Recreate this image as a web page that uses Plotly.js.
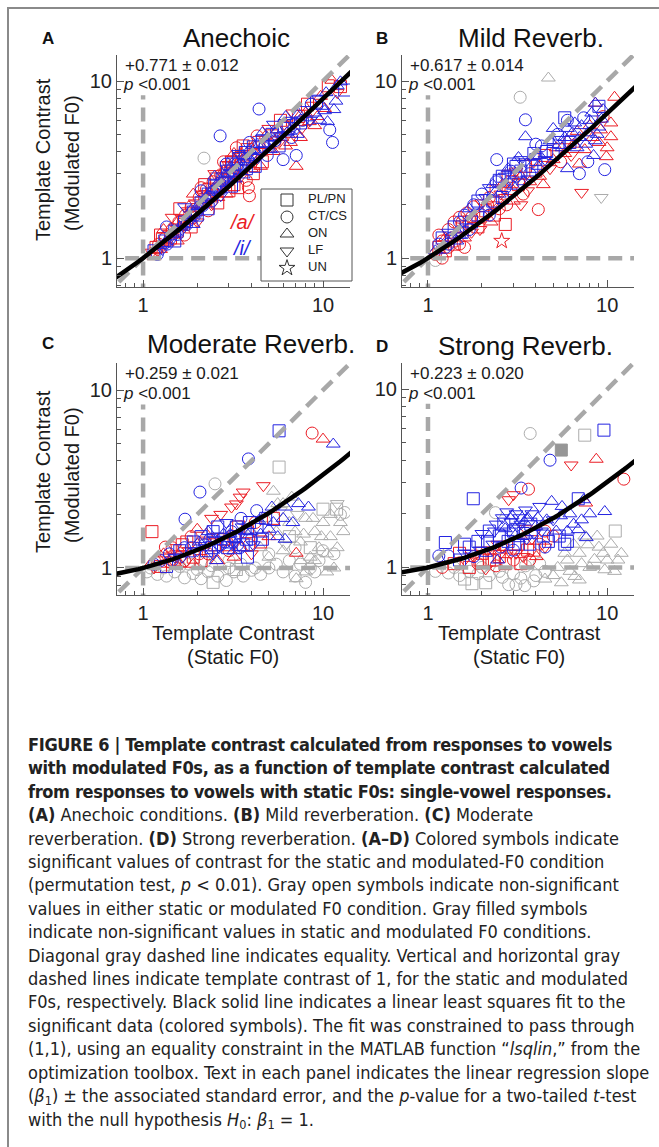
<!DOCTYPE html>
<html><head><meta charset="utf-8">
<script src="https://cdn.plot.ly/plotly-3.0.1.min.js"></script>
<style>
body{margin:0;background:#fff;}
#wrap{position:relative;width:659px;height:1147px;overflow:hidden;background:#fff;}
#plot{position:absolute;left:0;top:0;width:659px;height:1147px;}
#frame{position:absolute;left:7px;top:7px;width:700px;height:1200px;border-left:2px solid #8a8a8a;border-top:2px solid #8a8a8a;pointer-events:none;}
#cap{position:absolute;left:28px;top:733px;font-family:'Liberation Sans Narrow','DejaVu Sans Condensed',sans-serif;font-size:18px;line-height:23.4px;color:#222;white-space:nowrap;}
#cap .h{letter-spacing:-0.35px;}
#cap sub{font-size:70%;line-height:0;vertical-align:-0.25em;}
</style></head>
<body>
<div id="wrap">
<div id="plot"></div>
<div id="frame"></div>
<div id="cap">
<div class="h"><b>FIGURE 6 | Template contrast calculated from responses to vowels</b></div>
<div class="h"><b>with modulated F0s, as a function of template contrast calculated</b></div>
<div class="h"><b>from responses to vowels with static F0s: single-vowel responses.</b></div>
<div><b>(A)</b> Anechoic conditions. <b>(B)</b> Mild reverberation. <b>(C)</b> Moderate</div>
<div>reverberation. <b>(D)</b> Strong reverberation. <b>(A–D)</b> Colored symbols indicate</div>
<div>significant values of contrast for the static and modulated-F0 condition</div>
<div>(permutation test, <i>p</i> &lt; 0.01). Gray open symbols indicate non-significant</div>
<div>values in either static or modulated F0 condition. Gray filled symbols</div>
<div>indicate non-significant values in static and modulated F0 conditions.</div>
<div>Diagonal gray dashed line indicates equality. Vertical and horizontal gray</div>
<div>dashed lines indicate template contrast of 1, for the static and modulated</div>
<div>F0s, respectively. Black solid line indicates a linear least squares fit to the</div>
<div>significant data (colored symbols). The fit was constrained to pass through</div>
<div>(1,1), using an equality constraint in the MATLAB function “<i>lsqlin</i>,” from the</div>
<div>optimization toolbox. Text in each panel indicates the linear regression slope</div>
<div>(<i>β</i><sub>1</sub>) ± the associated standard error, and the <i>p</i>-value for a two-tailed <i>t</i>-test</div>
<div>with the null hypothesis <i>H</i><sub>0</sub>: <i>β</i><sub>1</sub> = 1.</div>
</div>
</div>
<script>
// ---------------- DATA ----------------
const panelLetters = ['A','B','C','D'];
const panelTitles = ['Anechoic','Mild Reverb.','Moderate Reverb.','Strong Reverb.'];
const slopes = [0.771, 0.617, 0.259, 0.223];
const slopeErrs = [0.012, 0.014, 0.021, 0.020];
const pTexts = ['<0.001','<0.001','<0.001','<0.001'];
const legendNames = ['PL/PN','CT/CS','ON','LF','UN'];
const legendCodes = ['s','c','u','d','t'];
const xTickVals = [1, 10];
const xTickText = ['1', '10'];

// points: [static F0 contrast, modulated F0 contrast, symbol code]
const A_red = [[1.12,1.08,'d'],[1.15,1.02,'u'],[1.18,1.15,'s'],[1.2,1.1,'d'],[1.22,1.2,'c'],[1.25,1.12,'u'],[1.25,1.35,'s'],[1.28,1.28,'s'],[1.3,1.18,'d'],[1.3,1.45,'u'],[1.33,1.3,'c'],[1.36,1.22,'u'],[1.4,1.38,'d'],[1.42,1.3,'s'],[1.45,1.45,'c'],[1.45,1.7,'d'],[1.48,1.35,'u'],[1.52,1.5,'d'],[1.55,1.42,'s'],[1.55,1.25,'u'],[1.58,1.6,'c'],[1.6,1.9,'s'],[1.62,1.5,'u'],[1.65,1.68,'d'],[1.68,1.55,'s'],[1.7,1.35,'c'],[1.72,1.75,'c'],[1.75,1.62,'u'],[1.78,1.85,'d'],[1.82,1.7,'s'],[1.85,1.95,'c'],[1.85,1.5,'s'],[1.9,1.8,'u'],[1.9,2.3,'u'],[1.95,2.05,'d'],[2.0,1.88,'s'],[2.0,1.6,'d'],[2.05,2.2,'c'],[2.1,2.0,'u'],[2.1,2.5,'c'],[2.15,2.3,'d'],[2.2,2.1,'s'],[2.2,2.6,'s'],[2.25,2.45,'c'],[2.3,2.2,'u'],[2.3,1.85,'c'],[2.35,2.55,'d'],[2.4,2.3,'s'],[2.4,2.0,'d'],[2.45,2.7,'c'],[2.5,2.4,'u'],[2.5,3.0,'d'],[2.55,2.8,'s'],[2.6,2.05,'s'],[2.6,2.2,'u'],[2.65,2.55,'d'],[2.7,2.95,'c'],[2.75,2.65,'s'],[2.8,3.1,'u'],[2.8,3.5,'c'],[2.85,2.75,'d'],[2.9,3.25,'s'],[2.9,2.3,'u'],[2.95,2.9,'c'],[3.0,3.35,'d'],[3.0,2.4,'s'],[3.05,3.0,'u'],[3.1,3.5,'s'],[3.15,3.1,'c'],[3.2,2.6,'s'],[3.2,3.9,'u'],[3.25,3.6,'u'],[3.3,3.2,'d'],[3.3,4.2,'c'],[3.35,2.5,'s'],[3.4,3.75,'c'],[3.45,3.8,'t'],[3.5,3.35,'s'],[3.5,2.9,'d'],[3.6,3.9,'d'],[3.6,4.3,'s'],[3.7,3.5,'u'],[3.75,2.75,'c'],[3.8,4.1,'s'],[3.85,2.5,'c'],[3.9,2.25,'c'],[3.95,3.7,'d'],[4.0,3.2,'u'],[4.1,4.3,'u'],[4.1,3.0,'s'],[4.2,3.8,'c'],[4.3,4.9,'c'],[4.4,4.5,'s'],[4.5,3.3,'u'],[4.6,4.0,'d'],[4.6,3.5,'s'],[4.8,4.9,'u'],[5.0,4.3,'s'],[5.0,5.4,'d'],[5.2,5.1,'d'],[5.3,4.0,'u'],[5.4,4.5,'c'],[5.6,5.3,'u'],[5.8,6.0,'s'],[5.9,4.8,'u'],[6.1,5.7,'d'],[6.2,4.3,'u'],[6.4,5.0,'u'],[6.6,4.5,'u'],[6.8,6.6,'d'],[6.9,5.8,'d'],[7.1,3.3,'u'],[7.3,6.3,'s'],[7.5,4.8,'u'],[7.6,5.4,'d'],[8.0,6.6,'u'],[8.2,7.4,'s'],[8.4,5.9,'u'],[8.8,7.3,'d'],[9.0,5.6,'u'],[9.3,6.3,'u'],[9.7,8.2,'u'],[10.2,7.0,'u'],[10.7,9.4,'s'],[11.2,10.1,'u'],[12.0,8.6,'d'],[12.5,9.3,'s']];
const A_blue = [[1.15,1.1,'s'],[1.2,1.05,'c'],[1.24,1.18,'u'],[1.28,1.12,'d'],[1.32,1.25,'s'],[1.35,1.5,'c'],[1.36,1.2,'c'],[1.4,1.32,'u'],[1.45,1.28,'d'],[1.5,1.42,'s'],[1.5,1.25,'s'],[1.55,1.36,'c'],[1.6,1.5,'u'],[1.65,1.45,'d'],[1.7,1.6,'s'],[1.7,1.95,'d'],[1.75,1.55,'c'],[1.8,1.7,'u'],[1.85,1.64,'d'],[1.9,1.82,'s'],[1.9,1.55,'u'],[1.95,1.75,'c'],[2.0,1.95,'u'],[2.0,1.75,'s'],[2.05,1.85,'d'],[2.1,2.05,'s'],[2.1,2.4,'c'],[2.15,1.98,'c'],[2.2,2.15,'u'],[2.25,2.08,'d'],[2.3,2.3,'s'],[2.3,1.9,'s'],[2.35,2.2,'c'],[2.4,2.4,'u'],[2.4,2.1,'c'],[2.45,2.3,'d'],[2.5,2.55,'s'],[2.5,2.9,'u'],[2.55,2.42,'c'],[2.6,2.65,'u'],[2.68,4.9,'c'],[2.7,2.55,'d'],[2.7,2.25,'d'],[2.75,2.8,'s'],[2.8,2.68,'c'],[2.8,2.45,'d'],[2.85,2.95,'u'],[2.9,2.8,'d'],[2.9,3.4,'c'],[2.95,3.1,'s'],[3.0,2.9,'c'],[3.05,3.25,'u'],[3.1,3.0,'d'],[3.1,2.55,'s'],[3.15,3.4,'s'],[3.2,3.1,'c'],[3.25,2.8,'u'],[3.3,3.5,'u'],[3.35,3.2,'d'],[3.4,3.65,'s'],[3.4,3.9,'d'],[3.5,3.35,'c'],[3.6,3.8,'u'],[3.6,2.95,'u'],[3.65,3.45,'d'],[3.7,3.95,'s'],[3.75,3.2,'s'],[3.8,3.6,'c'],[3.9,4.1,'u'],[3.9,4.5,'c'],[4.0,3.75,'d'],[4.1,4.25,'s'],[4.2,3.9,'c'],[4.2,3.3,'s'],[4.3,4.4,'u'],[4.35,3.7,'d'],[4.41,6.95,'c'],[4.45,4.05,'d'],[4.6,4.6,'s'],[4.6,5.1,'u'],[4.7,4.2,'c'],[4.9,4.8,'u'],[4.9,3.8,'c'],[5.0,4.4,'d'],[5.1,4.1,'u'],[5.2,5.0,'s'],[5.3,5.7,'d'],[5.4,4.6,'c'],[5.5,5.2,'c'],[5.6,5.3,'u'],[5.7,4.3,'s'],[5.8,4.9,'d'],[6.0,3.6,'c'],[6.1,5.6,'s'],[6.2,6.3,'u'],[6.3,5.1,'u'],[6.4,5.4,'s'],[6.6,6.0,'d'],[6.7,4.8,'c'],[6.9,5.4,'c'],[7.1,3.8,'c'],[7.2,6.4,'u'],[7.2,5.0,'u'],[7.5,5.8,'s'],[7.7,6.0,'c'],[7.9,6.9,'d'],[8.2,6.2,'u'],[8.5,6.0,'d'],[8.6,7.4,'c'],[9.0,6.6,'u'],[9.2,7.6,'s'],[9.4,8.0,'d'],[9.6,6.0,'u'],[9.9,7.2,'u'],[10.2,6.8,'u'],[10.4,8.6,'u'],[10.6,5.9,'u'],[10.9,5.3,'c'],[11.3,4.5,'c'],[11.5,6.9,'u'],[11.8,7.7,'u'],[12.0,9.4,'u'],[12.5,9.9,'u'],[13.2,8.9,'s']];
const A_gray = [[2.18,3.67,'c']];

const B_red = [[1.1,1.05,'c'],[1.15,1.15,'s'],[1.15,1.35,'c'],[1.2,1.0,'c'],[1.2,1.25,'c'],[1.25,1.3,'u'],[1.25,1.1,'s'],[1.3,1.15,'c'],[1.3,1.45,'c'],[1.35,1.25,'s'],[1.4,1.6,'c'],[1.4,1.2,'s'],[1.45,1.35,'d'],[1.5,1.2,'c'],[1.5,1.7,'c'],[1.55,1.5,'s'],[1.55,1.6,'c'],[1.6,1.3,'u'],[1.6,1.15,'c'],[1.65,1.8,'c'],[1.7,1.6,'s'],[1.75,1.4,'d'],[1.75,1.7,'c'],[1.8,1.95,'c'],[1.85,1.65,'u'],[1.9,1.5,'s'],[1.95,1.45,'d'],[2.0,2.05,'d'],[2.0,1.7,'c'],[2.1,1.85,'s'],[2.15,2.0,'c'],[2.2,2.2,'c'],[2.25,1.6,'u'],[2.3,2.0,'d'],[2.35,1.75,'s'],[2.4,2.4,'s'],[2.5,1.9,'c'],[2.55,2.3,'d'],[2.58,1.25,'t'],[2.6,2.6,'u'],[2.7,2.2,'d'],[2.7,1.55,'s'],[2.75,2.0,'c'],[2.8,2.9,'s'],[2.9,2.4,'c'],[2.95,2.7,'s'],[3.0,2.1,'u'],[3.1,3.1,'d'],[3.2,2.6,'s'],[3.3,2.0,'d'],[3.3,2.9,'u'],[3.4,2.3,'c'],[3.5,3.3,'s'],[3.6,2.4,'d'],[3.7,2.7,'u'],[3.9,3.5,'d'],[4.0,3.1,'s'],[4.13,1.88,'c'],[4.2,2.9,'u'],[4.4,2.6,'u'],[4.5,3.8,'s'],[4.8,3.2,'d'],[5.0,3.6,'u'],[5.2,4.2,'u'],[5.5,3.5,'c'],[5.8,3.9,'u'],[6.0,4.6,'u'],[6.3,3.8,'d'],[6.5,4.4,'u'],[6.8,5.2,'u'],[7.0,3.4,'u'],[7.2,2.35,'d'],[7.5,4.1,'u'],[8.0,5.6,'u'],[8.3,4.8,'u'],[8.6,7.5,'u'],[9.0,4.5,'u'],[9.2,5.3,'u'],[9.5,6.3,'c'],[9.9,3.74,'u'],[10.0,4.2,'u'],[10.5,4.85,'u'],[10.5,5.8,'u'],[11.0,8.1,'u']];
const B_blue = [[1.1,1.1,'u'],[1.15,1.2,'c'],[1.2,1.3,'s'],[1.25,1.15,'c'],[1.3,1.4,'d'],[1.3,1.2,'c'],[1.35,1.3,'c'],[1.4,1.5,'s'],[1.45,1.25,'u'],[1.5,1.6,'c'],[1.5,1.35,'u'],[1.55,1.4,'s'],[1.6,1.75,'c'],[1.65,1.5,'d'],[1.7,1.9,'u'],[1.7,1.45,'c'],[1.75,1.6,'s'],[1.8,2.0,'c'],[1.9,1.75,'s'],[1.9,2.1,'s'],[2.0,2.3,'c'],[2.1,1.9,'u'],[2.1,2.2,'d'],[2.2,2.5,'d'],[2.2,1.75,'c'],[2.3,2.1,'s'],[2.3,2.6,'u'],[2.42,3.6,'c'],[2.4,2.7,'c'],[2.5,2.3,'u'],[2.5,2.75,'s'],[2.6,2.9,'s'],[2.6,2.2,'s'],[2.7,2.5,'c'],[2.7,2.9,'d'],[2.8,3.2,'u'],[2.9,2.7,'d'],[2.9,3.1,'c'],[3.0,3.4,'s'],[3.0,2.55,'u'],[3.1,2.9,'c'],[3.1,3.3,'s'],[3.2,3.7,'u'],[3.3,3.1,'s'],[3.3,3.6,'d'],[3.4,2.7,'u'],[3.5,6.04,'c'],[3.5,4.85,'u'],[3.5,3.5,'d'],[3.6,2.8,'d'],[3.7,3.0,'c'],[3.8,3.3,'s'],[3.9,3.9,'s'],[4.0,3.6,'s'],[4.0,4.4,'c'],[4.1,3.3,'u'],[4.2,3.8,'u'],[4.3,4.3,'c'],[4.5,3.6,'d'],[4.6,4.0,'s'],[4.8,4.6,'u'],[5.0,3.9,'s'],[5.0,4.6,'u'],[5.0,5.4,'u'],[5.3,5.0,'c'],[5.4,4.5,'s'],[5.6,4.2,'u'],[5.8,4.8,'u'],[5.8,6.2,'s'],[6.0,5.4,'u'],[6.0,3.2,'u'],[6.0,6.0,'c'],[6.2,4.5,'s'],[6.4,5.1,'u'],[6.6,5.8,'u'],[6.8,4.2,'u'],[7.0,4.8,'u'],[7.0,3.0,'c'],[7.2,5.6,'u'],[7.4,6.2,'c'],[7.6,4.4,'u'],[7.8,5.1,'u'],[7.8,3.5,'c'],[8.0,6.0,'u'],[8.2,6.6,'u'],[8.4,3.8,'u'],[8.6,4.6,'u'],[8.6,7.5,'u'],[8.8,5.0,'u'],[9.0,5.5,'u'],[9.0,7.2,'s'],[9.3,6.1,'u'],[9.5,6.9,'u'],[9.7,3.16,'c']];
const B_gray = [[4.7,10.4,'u'],[3.27,8.1,'c'],[9.27,2.2,'d'],[1.1,0.97,'c']];

const C_red = [[1.1,1.05,'u'],[1.12,1.6,'s'],[1.15,1.0,'d'],[1.2,1.1,'c'],[1.25,1.02,'s'],[1.3,1.15,'d'],[1.3,1.2,'u'],[1.33,1.31,'c'],[1.35,1.05,'u'],[1.4,1.08,'c'],[1.45,1.3,'c'],[1.5,1.12,'s'],[1.5,1.3,'d'],[1.55,1.2,'d'],[1.6,1.05,'u'],[1.6,1.15,'c'],[1.65,1.35,'s'],[1.7,1.1,'c'],[1.75,1.4,'s'],[1.8,1.25,'d'],[1.85,1.5,'c'],[1.9,1.15,'s'],[1.9,1.05,'u'],[2.0,1.3,'u'],[2.0,1.65,'u'],[2.05,1.2,'c'],[2.1,1.1,'s'],[2.2,1.4,'d'],[2.25,1.55,'u'],[2.3,1.2,'c'],[2.4,1.9,'d'],[2.5,1.35,'s'],[2.6,1.1,'u'],[2.6,1.5,'d'],[2.7,2.0,'d'],[2.8,1.45,'s'],[2.9,1.35,'s'],[3.0,1.25,'c'],[3.1,2.2,'d'],[3.2,1.5,'s'],[3.2,1.15,'u'],[3.3,2.29,'d'],[3.4,1.7,'s'],[3.46,2.5,'d'],[3.5,1.3,'u'],[3.6,2.67,'d'],[3.8,1.6,'s'],[3.9,1.35,'c'],[4.0,1.2,'d'],[4.2,1.8,'c'],[4.5,1.4,'s'],[4.66,2.9,'d'],[5.0,1.5,'u'],[5.3,1.9,'s'],[7.1,1.21,'u'],[8.7,5.73,'c'],[10.0,5.3,'u']];
const C_blue = [[1.15,1.05,'c'],[1.25,1.1,'c'],[1.35,1.02,'s'],[1.4,1.2,'c'],[1.45,1.1,'c'],[1.5,1.15,'d'],[1.6,1.25,'s'],[1.65,1.15,'d'],[1.7,1.3,'c'],[1.71,1.88,'c'],[1.8,1.2,'u'],[1.85,1.3,'c'],[1.9,1.4,'s'],[2.0,1.25,'d'],[2.05,1.4,'u'],[2.07,2.67,'c'],[2.1,1.5,'s'],[2.2,1.35,'c'],[2.25,1.25,'s'],[2.3,1.6,'u'],[2.35,1.45,'c'],[2.4,1.3,'s'],[2.45,1.6,'s'],[2.45,1.2,'d'],[2.5,1.45,'d'],[2.55,1.1,'u'],[2.6,1.7,'s'],[2.65,1.3,'d'],[2.7,1.35,'c'],[2.75,1.5,'d'],[2.8,1.55,'u'],[2.85,1.4,'c'],[2.9,1.8,'d'],[2.95,1.3,'s'],[3.0,1.4,'s'],[3.05,1.55,'u'],[3.1,1.6,'c'],[3.15,1.35,'d'],[3.2,1.25,'u'],[3.25,1.5,'s'],[3.3,1.7,'s'],[3.35,1.35,'c'],[3.4,1.5,'d'],[3.45,1.3,'c'],[3.5,1.9,'c'],[3.55,1.7,'d'],[3.6,1.35,'s'],[3.7,1.6,'u'],[3.75,1.45,'s'],[3.8,1.15,'s'],[3.85,4.1,'c'],[3.9,1.8,'s'],[3.95,1.6,'u'],[4.0,1.45,'c'],[4.1,1.35,'d'],[4.28,2.1,'c'],[4.3,1.7,'s'],[4.4,1.85,'u'],[4.5,1.55,'u'],[4.6,1.45,'s'],[4.8,1.9,'s'],[5.0,1.65,'u'],[5.2,2.2,'u'],[5.3,1.8,'u'],[5.6,1.5,'u'],[5.7,5.9,'s'],[6.0,1.9,'u'],[6.15,1.45,'u'],[6.2,2.2,'u'],[6.8,1.8,'u'],[7.3,2.3,'u'],[8.3,2.2,'u'],[11.4,4.97,'u']];
const C_gray = [[1.05,0.95,'c'],[1.1,1.0,'c'],[1.2,0.92,'c'],[1.3,1.0,'c'],[1.35,0.9,'c'],[1.5,0.95,'c'],[1.6,1.02,'c'],[1.7,0.88,'c'],[1.8,1.05,'c'],[1.9,0.93,'c'],[2.0,0.98,'c'],[2.1,0.87,'c'],[2.2,1.08,'c'],[2.3,0.95,'c'],[2.4,1.03,'c'],[2.51,2.97,'c'],[2.6,0.9,'c'],[2.9,0.85,'c'],[3.0,1.0,'c'],[3.0,1.1,'c'],[3.2,0.95,'c'],[3.5,1.05,'c'],[3.6,0.9,'c'],[4.0,0.97,'c'],[4.2,1.0,'c'],[4.5,0.92,'c'],[5.0,1.0,'c'],[5.0,1.2,'c'],[5.5,1.05,'c'],[6.0,0.95,'c'],[6.5,1.1,'c'],[7.0,0.9,'c'],[7.0,1.3,'c'],[7.5,1.05,'c'],[8.0,0.83,'c'],[8.5,1.0,'c'],[9.0,0.95,'c'],[9.5,1.1,'c'],[10.0,1.25,'c'],[11.5,1.2,'c'],[12.5,2.0,'c'],[13.2,2.05,'c'],[5.7,3.69,'s'],[10.0,2.14,'s'],[11.9,2.14,'s'],[2.45,0.83,'s'],[3.3,0.98,'s'],[6.5,1.5,'s'],[8.5,1.3,'s'],[4.0,1.6,'u'],[4.5,1.3,'u'],[4.8,1.9,'u'],[5.0,1.15,'u'],[5.3,2.7,'u'],[5.5,1.6,'u'],[5.6,2.3,'u'],[6.0,1.25,'u'],[6.0,2.3,'u'],[6.5,1.8,'u'],[6.7,2.5,'u'],[7.0,1.6,'u'],[7.1,0.87,'u'],[7.5,1.4,'u'],[7.5,1.1,'u'],[7.8,1.55,'u'],[8.0,1.9,'u'],[8.0,0.95,'u'],[8.5,1.15,'u'],[8.8,1.9,'u'],[9.0,1.6,'u'],[9.0,1.1,'u'],[9.5,1.3,'u'],[9.8,1.5,'u'],[10.0,1.8,'u'],[10.5,1.2,'u'],[10.5,0.95,'u'],[11.0,1.5,'u'],[11.0,2.0,'u'],[11.5,1.0,'u'],[12.0,1.3,'u'],[12.5,1.8,'u'],[13.0,1.6,'u'],[5.8,2.1,'d'],[7.2,2.0,'d'],[6.2,1.35,'d'],[12.0,2.3,'d']];

const D_red = [[1.2,1.0,'c'],[1.4,1.05,'s'],[1.5,1.2,'s'],[1.6,1.1,'d'],[1.7,1.0,'s'],[1.75,1.2,'d'],[1.8,1.15,'d'],[1.9,1.05,'c'],[1.95,1.1,'s'],[2.0,1.2,'s'],[2.1,0.98,'d'],[2.15,1.25,'d'],[2.2,1.1,'s'],[2.3,1.25,'d'],[2.35,1.1,'s'],[2.4,1.02,'c'],[2.45,1.35,'d'],[2.5,1.15,'s'],[2.55,1.2,'d'],[2.6,1.3,'d'],[2.7,1.05,'s'],[2.75,1.3,'s'],[2.82,2.4,'d'],[2.9,1.2,'d'],[3.0,2.56,'d'],[3.0,1.1,'c'],[3.1,1.2,'d'],[3.2,1.35,'s'],[3.3,1.05,'s'],[3.4,1.15,'d'],[3.5,1.65,'d'],[3.64,2.75,'c'],[3.6,1.25,'s'],[3.7,1.1,'c'],[3.8,1.45,'d'],[3.9,1.25,'s'],[4.03,1.15,'u'],[4.2,1.35,'c'],[4.5,1.6,'c'],[4.5,1.3,'d'],[5.0,1.5,'c'],[6.3,3.76,'d'],[7.6,2.3,'u'],[8.7,4.05,'u'],[12.4,3.13,'c']];
const D_blue = [[1.15,1.16,'c'],[1.3,1.16,'c'],[1.25,1.38,'s'],[1.5,1.1,'s'],[1.6,1.2,'d'],[1.6,1.35,'s'],[1.7,1.3,'s'],[1.79,2.43,'s'],[1.8,1.15,'c'],[1.9,1.4,'s'],[1.95,1.25,'d'],[2.0,1.55,'d'],[2.1,1.2,'u'],[2.15,1.4,'s'],[2.2,1.6,'s'],[2.3,1.35,'d'],[2.35,1.6,'d'],[2.4,1.75,'d'],[2.45,1.1,'u'],[2.5,1.5,'s'],[2.55,1.3,'c'],[2.6,1.9,'d'],[2.65,1.75,'s'],[2.7,1.65,'u'],[2.75,2.05,'d'],[2.8,1.4,'s'],[2.85,1.6,'d'],[2.9,1.8,'d'],[2.95,1.95,'u'],[3.0,1.6,'s'],[3.0,1.25,'c'],[3.05,1.35,'s'],[3.1,2.0,'d'],[3.15,1.7,'d'],[3.2,1.45,'u'],[3.25,1.9,'d'],[3.31,2.79,'c'],[3.3,1.75,'d'],[3.4,1.55,'s'],[3.45,1.8,'u'],[3.5,2.1,'d'],[3.55,1.45,'d'],[3.6,1.9,'u'],[3.7,1.35,'s'],[3.75,1.75,'s'],[3.8,2.0,'d'],[3.9,1.55,'d'],[4.0,1.7,'u'],[4.1,1.9,'u'],[4.2,2.2,'d'],[4.3,1.6,'d'],[4.4,1.5,'s'],[4.5,1.3,'c'],[4.6,1.85,'u'],[4.7,1.4,'s'],[4.8,4.0,'c'],[4.9,2.35,'u'],[5.0,1.85,'d'],[5.2,1.6,'u'],[5.4,1.5,'s'],[5.5,1.95,'u'],[5.6,2.2,'u'],[5.8,1.35,'s'],[6.0,1.4,'s'],[6.0,1.6,'u'],[6.2,2.0,'u'],[6.5,1.75,'u'],[6.9,2.43,'s'],[6.9,1.63,'u'],[7.2,1.85,'u'],[7.4,2.4,'u'],[7.65,1.47,'u'],[8.0,2.0,'u'],[9.6,5.9,'s'],[9.7,2.06,'u']];
const D_gray = [[1.1,0.95,'c'],[1.3,0.93,'c'],[1.4,1.0,'c'],[1.5,0.9,'c'],[1.6,0.86,'s'],[1.7,0.95,'c'],[1.76,0.81,'s'],[1.9,0.92,'c'],[2.0,1.0,'c'],[2.1,0.82,'s'],[2.2,0.9,'c'],[2.38,2.03,'c'],[2.5,0.95,'c'],[2.6,0.88,'c'],[2.82,0.8,'c'],[3.0,0.92,'c'],[3.1,0.8,'c'],[3.3,0.87,'c'],[3.47,0.79,'c'],[3.5,1.02,'c'],[3.72,5.65,'c'],[3.9,0.84,'c'],[4.0,0.9,'c'],[4.2,1.05,'c'],[4.5,0.95,'c'],[4.5,0.86,'u'],[5.0,0.9,'u'],[5.3,1.0,'u'],[5.55,0.82,'u'],[5.8,1.2,'u'],[6.0,1.1,'u'],[6.2,0.95,'u'],[6.5,1.35,'u'],[6.6,0.89,'u'],[7.0,1.2,'u'],[7.0,0.85,'u'],[7.2,1.05,'u'],[7.5,1.5,'u'],[7.5,5.53,'s'],[7.8,1.34,'u'],[8.0,1.0,'u'],[8.5,1.11,'u'],[8.8,1.5,'u'],[9.0,1.3,'u'],[9.5,1.2,'u'],[9.7,0.97,'u'],[10.0,1.1,'u'],[10.5,1.35,'u'],[11.0,0.95,'u'],[11.1,1.6,'s'],[11.5,1.1,'u'],[12.0,1.2,'u']];
const D_grayFilled = [[5.55,4.56,'s']];

const redPts = [A_red, B_red, C_red, D_red];
const bluePts = [A_blue, B_blue, C_blue, D_blue];
const grayPts = [A_gray, B_gray, C_gray, D_gray];
const grayFilledPts = [[], [], [], D_grayFilled];

// ---------------- LAYOUT / STYLE ----------------
const W = 659, H = 1147;
const FONT = 'Liberation Sans, Arial, Helvetica, sans-serif';
const RED = 'rgb(235,28,36)', BLUE = 'rgb(36,36,225)', GRAY = 'rgb(172,172,172)';
const SYM = {s:'square-open', c:'circle-open', u:'triangle-up-open', d:'triangle-down-open', t:'star-open'};
const SYMF = {s:'square', c:'circle', u:'triangle-up', d:'triangle-down', t:'star'};
// pixel boxes of each panel [left,right,top,bottom]
const boxes = [[117,350,55,287],[402,634,55,287],[117,350,363,595],[402,634,363,595]];
const yRanges = [[-0.163,1.147],[-0.163,1.147],[-0.152,1.152],[-0.155,1.148]];
const xRange = [-0.145, 1.15];
const MSIZE = 12;

const traces = [];
const layout = {width:W, height:H, margin:{l:0,r:0,t:0,b:0}, paper_bgcolor:'rgba(0,0,0,0)', plot_bgcolor:'rgba(0,0,0,0)',
  showlegend:false, annotations:[], font:{family:FONT, color:'#222'}};

function px2x(p){return p/W;}
function px2y(p){return 1-p/H;}
function ann(text, x, y, o){
  layout.annotations.push(Object.assign({text:text, x:px2x(x), y:px2y(y), xref:'paper', yref:'paper', showarrow:false,
    xanchor:'center', yanchor:'middle', font:{family:FONT, size:20, color:'#1a1a1a'}}, o||{}));
}
const minorVals = [0.7,0.8,0.9,2,3,4,5,6,7,8,9,20];

for (let i=0;i<4;i++){
  const sfx = i===0 ? '' : String(i+1);
  const xa = 'x'+sfx, ya = 'y'+sfx;
  const b = boxes[i];
  const axCommon = {type:'log', showline:true, linecolor:'#555', linewidth:1, mirror:false, ticks:'inside', ticklen:7,
    tickcolor:'#555', tickwidth:1, tickmode:'array', tickvals:xTickVals, ticktext:xTickText, showgrid:false, zeroline:false,
    tickfont:{family:FONT, size:20, color:'#222'},
    minor:{tickmode:'array', tickvals:minorVals, ticks:'inside', ticklen:4, tickcolor:'#555', showgrid:false}};
  layout['xaxis'+sfx] = Object.assign({}, axCommon, {domain:[px2x(b[0]), px2x(b[1])], range:xRange, anchor:ya});
  layout['yaxis'+sfx] = Object.assign({}, axCommon, {domain:[px2y(b[3]), px2y(b[2])], range:yRanges[i], anchor:xa});

  function pts(arr, color, filled){
    return {type:'scatter', mode:'markers', x:arr.map(p=>p[0]), y:arr.map(p=>p[1]), xaxis:xa, yaxis:ya,
      marker:{symbol:arr.map(p=>(filled?SYMF:SYM)[p[2]]), size:MSIZE, color:color, line:{color:color, width:1}},
      hoverinfo:'skip'};
  }
  traces.push(pts(grayPts[i], GRAY, false));
  if (grayFilledPts[i].length) traces.push(pts(grayFilledPts[i], 'rgb(150,150,150)', true));
  traces.push(pts(redPts[i], RED, false));
  traces.push(pts(bluePts[i], BLUE, false));

  const dashLine = {color:'rgb(168,168,168)', width:4.5, dash:'14px,8px'};
  traces.push({type:'scatter', mode:'lines', x:[0.6,16], y:[0.6,16], xaxis:xa, yaxis:ya, line:dashLine, hoverinfo:'skip'});
  traces.push({type:'scatter', mode:'lines', x:[1,1], y:[0.6,8.3], xaxis:xa, yaxis:ya, line:dashLine, hoverinfo:'skip'});
  traces.push({type:'scatter', mode:'lines', x:[0.6,16], y:[1,1], xaxis:xa, yaxis:ya, line:dashLine, hoverinfo:'skip'});

  // constrained linear fit through (1,1): y = 1 + slope*(x-1)
  const fx = [], fy = [];
  for (let k=0;k<=80;k++){ const lx = -0.2 + k*(1.4/80); const xv = Math.pow(10,lx); fx.push(xv); fy.push(1 + slopes[i]*(xv-1)); }
  traces.push({type:'scatter', mode:'lines', x:fx, y:fy, xaxis:xa, yaxis:ya, line:{color:'#000', width:4.5}, hoverinfo:'skip'});

  ann('+' + slopes[i].toFixed(3) + ' ± ' + slopeErrs[i].toFixed(3), b[0]+6, b[2]+10, {xanchor:'left', font:{family:FONT, size:17, color:'#1a1a1a'}});
  ann('<i>p</i> ' + pTexts[i].replace('<','&lt;'), b[0]+4, b[2]+30, {xanchor:'left', font:{family:FONT, size:17, color:'#1a1a1a'}});
}

// key (legend) for panel A, drawn on a full-page overlay axis in pixel units
layout.xaxis5 = {domain:[0,1], range:[0,W], visible:false, anchor:'y5', fixedrange:true};
layout.yaxis5 = {domain:[0,1], range:[H,0], visible:false, anchor:'x5', fixedrange:true};
const keyBox = {l:261, r:352, t:189, b:281};
const keyRows = legendCodes.map((c,k)=>keyBox.t + 11 + k*17);
traces.push({type:'scatter', mode:'lines', xaxis:'x5', yaxis:'y5',
  x:[keyBox.l,keyBox.r,keyBox.r,keyBox.l,keyBox.l], y:[keyBox.t,keyBox.t,keyBox.b,keyBox.b,keyBox.t],
  fill:'toself', fillcolor:'#fff', line:{color:'#555', width:1}, hoverinfo:'skip'});
traces.push({type:'scatter', mode:'markers', xaxis:'x5', yaxis:'y5', x:legendCodes.map(()=>keyBox.l+26), y:keyRows,
  marker:{symbol:legendCodes.map(c=>SYM[c]), size:MSIZE, color:'#333', line:{color:'#333', width:1}}, hoverinfo:'skip'});
traces.push({type:'scatter', mode:'text', xaxis:'x5', yaxis:'y5', x:legendCodes.map(()=>keyBox.l+47), y:keyRows,
  text:legendNames, textposition:'middle right', textfont:{family:FONT, size:13, color:'#222'}, hoverinfo:'skip'});

// panel titles & letters
const titlePos = [[236,38],[531,38],[251,344],[525,346]];
const letterPos = [[48,38],[382,38],[48,344],[382,346]];
for (let i=0;i<4;i++){
  ann(panelTitles[i], titlePos[i][0], titlePos[i][1], {font:{family:FONT, size:26, color:'#111'}});
  ann('<b>'+panelLetters[i]+'</b>', letterPos[i][0], letterPos[i][1], {font:{family:FONT, size:17, color:'#111'}});
}
// axis titles
[[160],[472]].forEach((r)=>{
  ann('Template Contrast', 43, r[0], {textangle:-90});
  ann('(Modulated F0)', 72, r[0]+3, {textangle:-90});
});
[[233],[519]].forEach((c)=>{
  ann('Template Contrast', c[0], 633);
  ann('(Static F0)', c[0], 657);
});
// vowel labels
ann('<i>/a/</i>', 242, 222, {font:{family:FONT, size:20, color:RED}});
ann('<i>/i/</i>', 242, 248, {font:{family:FONT, size:20, color:BLUE}});

Plotly.newPlot('plot', traces, layout, {staticPlot:true, displayModeBar:false});
</script>
</body></html>
